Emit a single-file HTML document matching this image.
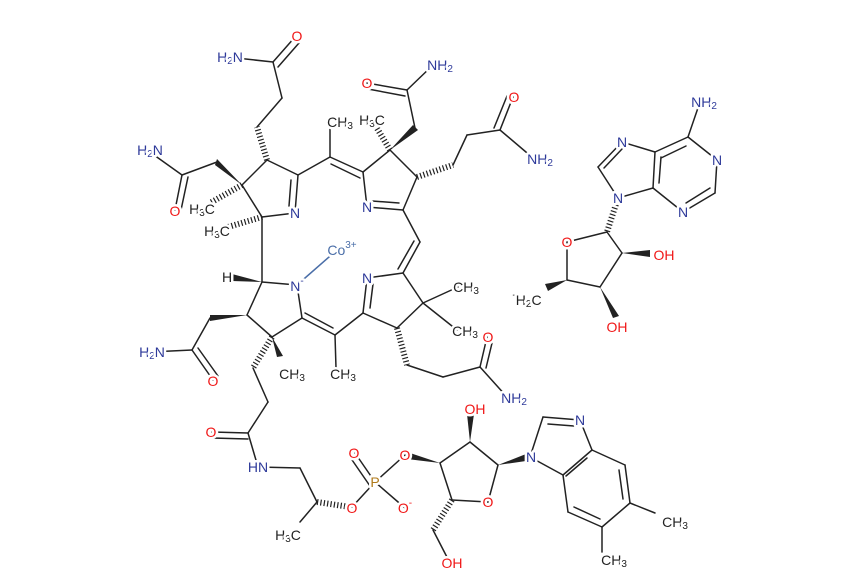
<!DOCTYPE html>
<html><head><meta charset="utf-8"><style>
html,body{margin:0;padding:0;background:#fff;}
svg{display:block}
.b line{stroke:#222;stroke-width:1.5;stroke-linecap:round}
.h{stroke:#222;stroke-width:6;stroke-dasharray:1.2 2.2}
text{font-family:"Liberation Sans",sans-serif;font-size:14px;text-anchor:middle;dominant-baseline:central;stroke:#fff;stroke-width:5;paint-order:stroke;stroke-linejoin:round}
.n{fill:#2e3a9a}.o{fill:#f01818}.c{fill:#222}.p{fill:#b07a1a}.co{fill:#4a6ea8}
tspan.s{font-size:10px}
</style></head><body>
<svg width="863" height="583" viewBox="0 0 863 583">
<g class="b">
<line x1="267" y1="160" x2="298" y2="175"/><line x1="298" y1="175" x2="295" y2="213"/><line x1="291" y1="180" x2="289" y2="206"/>
<line x1="295" y1="213" x2="262" y2="217"/><line x1="262" y1="217" x2="242" y2="185"/><line x1="242" y1="185" x2="267" y2="160"/>
<line x1="257" y1="127" x2="282" y2="98"/><line x1="282" y1="98" x2="273" y2="62"/><line x1="273" y1="62" x2="295" y2="37"/><line x1="278" y1="67" x2="299" y2="43"/><line x1="273" y1="62" x2="227" y2="57"/>
<line x1="217" y1="162" x2="182" y2="175"/><line x1="182" y1="175" x2="175" y2="210"/><line x1="188" y1="177" x2="181" y2="210"/><line x1="182" y1="175" x2="147" y2="150"/>
<line x1="262" y1="217" x2="262" y2="282"/>
<line x1="298" y1="175" x2="330" y2="157"/><line x1="330" y1="157" x2="330" y2="128"/><line x1="330" y1="157" x2="363" y2="172"/><line x1="331" y1="164" x2="360" y2="178"/>
<line x1="363" y1="172" x2="367" y2="207"/><line x1="367" y1="207" x2="403" y2="210"/><line x1="372" y1="201" x2="399" y2="203"/>
<line x1="403" y1="210" x2="417" y2="177"/><line x1="417" y1="177" x2="390" y2="150"/><line x1="390" y1="150" x2="363" y2="172"/>
<line x1="415" y1="128" x2="407" y2="90"/><line x1="407" y1="90" x2="367" y2="83"/><line x1="405" y1="96" x2="368" y2="89"/><line x1="407" y1="90" x2="433" y2="65"/>
<line x1="453" y1="165" x2="467" y2="135"/><line x1="467" y1="135" x2="500" y2="130"/><line x1="500" y1="130" x2="513" y2="97"/><line x1="494" y1="128" x2="507" y2="96"/><line x1="500" y1="130" x2="533" y2="158"/>
<line x1="403" y1="210" x2="420" y2="242"/><line x1="420" y1="242" x2="403" y2="273"/><line x1="414" y1="241" x2="398" y2="269"/>
<line x1="403" y1="273" x2="367" y2="278"/><line x1="367" y1="278" x2="363" y2="313"/><line x1="373" y1="284" x2="370" y2="308"/>
<line x1="363" y1="313" x2="397" y2="328"/><line x1="397" y1="328" x2="423" y2="303"/><line x1="423" y1="303" x2="403" y2="273"/>
<line x1="423" y1="303" x2="458" y2="287"/><line x1="423" y1="303" x2="457" y2="330"/>
<line x1="407" y1="365" x2="443" y2="377"/><line x1="443" y1="377" x2="480" y2="367"/><line x1="480" y1="367" x2="487" y2="337"/><line x1="486" y1="368" x2="493" y2="339"/><line x1="480" y1="367" x2="507" y2="397"/>
<line x1="363" y1="313" x2="335" y2="335"/><line x1="335" y1="335" x2="302" y2="318"/><line x1="333" y1="328" x2="305" y2="313"/><line x1="335" y1="335" x2="336" y2="368"/>
<line x1="302" y1="318" x2="297" y2="285"/><line x1="297" y1="285" x2="262" y2="282"/><line x1="262" y1="282" x2="247" y2="315"/><line x1="247" y1="315" x2="272" y2="337"/><line x1="272" y1="337" x2="302" y2="318"/>
<line x1="297" y1="285" x2="337" y2="250" style="stroke:#4a6ea8"/>
<line x1="210" y1="318" x2="192" y2="350"/><line x1="192" y1="350" x2="213" y2="380"/><line x1="198" y1="348" x2="218" y2="376"/><line x1="192" y1="350" x2="150" y2="352"/>
<line x1="253" y1="368" x2="268" y2="402"/><line x1="268" y1="402" x2="248" y2="433"/><line x1="248" y1="433" x2="212" y2="432"/><line x1="248" y1="439" x2="212" y2="438"/><line x1="248" y1="433" x2="258" y2="467"/>
<line x1="258" y1="467" x2="300" y2="468"/><line x1="300" y1="468" x2="317" y2="502"/><line x1="317" y1="502" x2="300" y2="522"/>
<line x1="352" y1="507" x2="375" y2="482"/><line x1="375" y1="482" x2="355" y2="453"/><line x1="370" y1="486" x2="350" y2="457"/><line x1="375" y1="482" x2="405" y2="455"/><line x1="375" y1="482" x2="405" y2="508"/>
<line x1="440" y1="463" x2="470" y2="442"/><line x1="470" y1="442" x2="498" y2="465"/><line x1="498" y1="465" x2="488" y2="502"/><line x1="488" y1="502" x2="452" y2="500"/><line x1="452" y1="500" x2="440" y2="463"/>
<line x1="433" y1="530" x2="450" y2="563"/>
<line x1="530" y1="457" x2="543" y2="417"/><line x1="543" y1="417" x2="580" y2="420"/><line x1="548" y1="424" x2="574" y2="426"/>
<line x1="580" y1="420" x2="592" y2="450"/><line x1="592" y1="450" x2="563" y2="475"/><line x1="587" y1="458" x2="566" y2="476"/><line x1="563" y1="475" x2="530" y2="457"/>
<line x1="563" y1="475" x2="568" y2="512"/><line x1="568" y1="512" x2="602" y2="527"/><line x1="574" y1="507" x2="600" y2="519"/>
<line x1="602" y1="527" x2="630" y2="503"/><line x1="630" y1="503" x2="625" y2="465"/><line x1="623" y1="499" x2="619" y2="470"/><line x1="625" y1="465" x2="592" y2="450"/>
<line x1="630" y1="503" x2="655" y2="513"/><line x1="602" y1="527" x2="602" y2="552"/>
<line x1="618" y1="198" x2="598" y2="167"/><line x1="598" y1="167" x2="622" y2="142"/><line x1="604" y1="168" x2="622" y2="149"/>
<line x1="622" y1="142" x2="655" y2="152"/><line x1="655" y1="152" x2="653" y2="188"/><line x1="661" y1="157" x2="659" y2="183"/><line x1="653" y1="188" x2="618" y2="198"/>
<line x1="655" y1="152" x2="688" y2="137"/><line x1="661" y1="158" x2="686" y2="146"/><line x1="688" y1="137" x2="717" y2="160"/><line x1="717" y1="160" x2="715" y2="193"/><line x1="715" y1="193" x2="683" y2="212"/><line x1="710" y1="188" x2="686" y2="203"/><line x1="683" y1="212" x2="653" y2="188"/>
<line x1="688" y1="137" x2="700" y2="102"/>
<line x1="607" y1="232" x2="567" y2="242"/><line x1="567" y1="242" x2="567" y2="280"/><line x1="567" y1="280" x2="600" y2="287"/><line x1="600" y1="287" x2="622" y2="253"/><line x1="622" y1="253" x2="607" y2="232"/>
</g>
<g>
<line class="h" x1="267" y1="160" x2="257" y2="127"/>
<line class="h" x1="242" y1="185" x2="210" y2="203"/>
<line class="h" x1="262" y1="217" x2="228" y2="227"/>
<line class="h" x1="390" y1="150" x2="375" y2="125"/>
<line class="h" x1="417" y1="177" x2="453" y2="165"/>
<line class="h" x1="397" y1="328" x2="407" y2="365"/>
<line class="h" x1="272" y1="337" x2="253" y2="368"/>
<line class="h" x1="317" y1="502" x2="350" y2="507"/>
<line class="h" x1="452" y1="500" x2="433" y2="530"/>
<line class="h" x1="618" y1="198" x2="607" y2="232"/>
</g>
<g>
<polygon points="242,185 217,159 215,165" fill="#222"/>
<polygon points="390,150 413,125 418,130" fill="#222"/>
<polygon points="262,282 232,274 232,281" fill="#222"/>
<polygon points="247,315 210,315 210,321" fill="#222"/>
<polygon points="272,337 277,357 283,356" fill="#222"/>
<polygon points="440,463 407,452 407,459" fill="#222"/>
<polygon points="470,442 467,414 474,414" fill="#222"/>
<polygon points="498,465 526,454 526,461" fill="#222"/>
<polygon points="622,253 650,250 650,257" fill="#222"/>
<polygon points="600,287 613,318 619,316" fill="#222"/>
<polygon points="567,280 545,284 548,291" fill="#222"/>
</g>
<g>
<text class="n" x="230" y="57">H<tspan class="s" dy="4">2</tspan><tspan dy="-4">N</tspan></text>
<text class="o" x="297" y="36">O</text>
<text class="n" x="150" y="150">H<tspan class="s" dy="4">2</tspan><tspan dy="-4">N</tspan></text>
<text class="o" x="175" y="211">O</text>
<text class="c" x="202" y="209">H<tspan class="s" dy="4">3</tspan><tspan dy="-4">C</tspan></text>
<text class="c" x="217" y="231">H<tspan class="s" dy="4">3</tspan><tspan dy="-4">C</tspan></text>
<text class="n" x="295" y="213">N</text>
<text class="c" x="340" y="122">CH<tspan class="s" dy="4">3</tspan></text>
<text class="c" x="372" y="120">H<tspan class="s" dy="4">3</tspan><tspan dy="-4">C</tspan></text>
<text class="n" x="367" y="207">N</text>
<text class="o" x="367" y="83">O</text>
<text class="n" x="440" y="65">NH<tspan class="s" dy="4">2</tspan></text>
<text class="o" x="514" y="97">O</text>
<text class="n" x="540" y="159">NH<tspan class="s" dy="4">2</tspan></text>
<text class="co" x="342" y="250">Co<tspan class="s" dy="-5">3+</tspan></text>
<text class="n" x="297" y="286">N<tspan class="s" dy="-5">-</tspan></text>
<text class="c" x="227" y="277">H</text>
<text class="n" x="367" y="278">N</text>
<text class="c" x="466" y="287">CH<tspan class="s" dy="4">3</tspan></text>
<text class="c" x="465" y="331">CH<tspan class="s" dy="4">3</tspan></text>
<text class="o" x="488" y="337">O</text>
<text class="n" x="514" y="398">NH<tspan class="s" dy="4">2</tspan></text>
<text class="c" x="343" y="374">CH<tspan class="s" dy="4">3</tspan></text>
<text class="c" x="292" y="374">CH<tspan class="s" dy="4">3</tspan></text>
<text class="n" x="152" y="352">H<tspan class="s" dy="4">2</tspan><tspan dy="-4">N</tspan></text>
<text class="o" x="213" y="381">O</text>
<text class="o" x="211" y="432">O</text>
<text class="n" x="258" y="467">HN</text>
<text class="c" x="288" y="535">H<tspan class="s" dy="4">3</tspan><tspan dy="-4">C</tspan></text>
<text class="o" x="352" y="508">O</text>
<text class="p" x="375" y="482">P</text>
<text class="o" x="354" y="453">O</text>
<text class="o" x="405" y="455">O</text>
<text class="o" x="405" y="508">O<tspan class="s" dy="-5">-</tspan></text>
<text class="o" x="475" y="409">OH</text>
<text class="o" x="488" y="502">O</text>
<text class="o" x="452" y="563">OH</text>
<text class="n" x="531" y="457">N</text>
<text class="n" x="580" y="420">N</text>
<text class="c" x="675" y="522">CH<tspan class="s" dy="4">3</tspan></text>
<text class="c" x="614" y="560">CH<tspan class="s" dy="4">3</tspan></text>
<text class="n" x="704" y="102">NH<tspan class="s" dy="4">2</tspan></text>
<text class="n" x="622" y="142">N</text>
<text class="n" x="717" y="160">N</text>
<text class="n" x="683" y="212">N</text>
<text class="n" x="618" y="198">N</text>
<text class="o" x="567" y="242">O</text>
<text class="o" x="664" y="255">OH</text>
<text class="o" x="617" y="327">OH</text>
<text class="c" x="527" y="300"><tspan class="s" dy="-5">-</tspan><tspan dy="5">H</tspan><tspan class="s" dy="4">2</tspan><tspan dy="-4">C</tspan></text>
</g>
</svg>
</body></html>
